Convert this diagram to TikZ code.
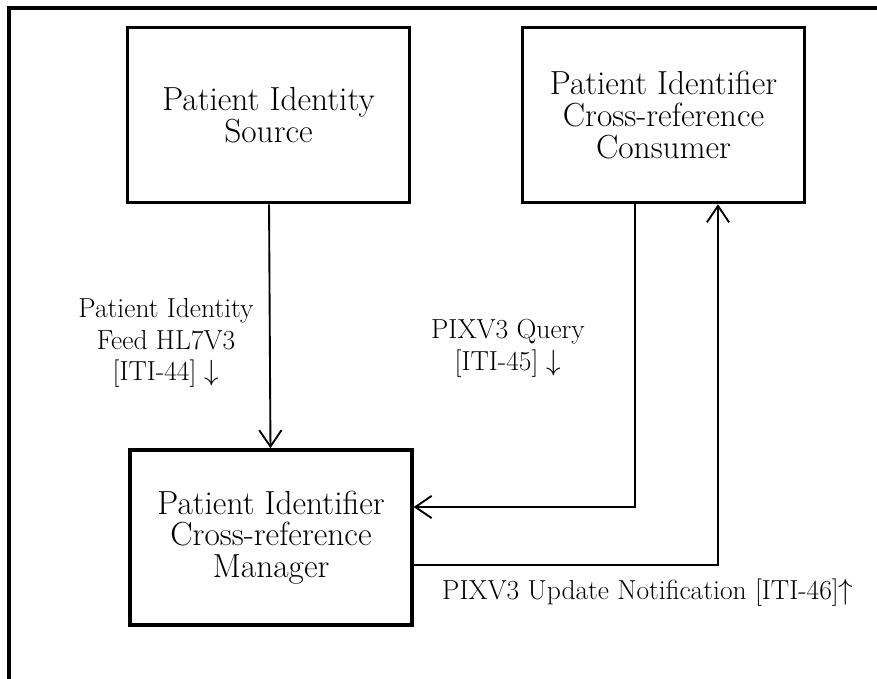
\documentclass[tikz,border=0pt]{standalone}
\usetikzlibrary{arrows.meta}
\begin{document}
\begin{tikzpicture}[x=0.03cm,y=-0.03cm,
  actor/.style={draw,line width=3pt,minimum width=8.45cm,minimum height=5.25cm,
    align=center,font=\fontsize{28.5}{27}\selectfont},
  flow/.style={line width=1.6pt,-{Straight Barb[length=14pt,width=19pt]}},
  msg/.style={align=center,inner sep=0pt,font=\fontsize{23.5}{27}\selectfont}]
\useasboundingbox (0,0) rectangle (877,679);
% draw the frame
\draw[line width=3.2pt] (9,679) -- (9,8) -- (877,8);

% draw the actors
\node[actor] (source) at (268.5,115) {Patient Identity\\Source};
\node[actor] (consumer) at (663.5,115) {Patient Identifier\\Cross-reference\\Consumer};
\node[actor] (manager) at (271,537.5) {Patient Identifier\\Cross-reference\\Manager};

% draw the transactions
\draw[flow] (source) -- (manager);
\draw[flow] ([xshift=-0.855cm]consumer.south) |- ([yshift=0.915cm]manager.east);
\draw[flow] ([yshift=-0.825cm]manager.east) -| ([xshift=1.635cm]consumer.south);

% draw the labels
\node[msg] (feedlbl) at (166,343) {Patient Identity\\Feed HL7V3\\{[ITI-44] $\downarrow$}};
\node[msg] (querylbl) at (508,348) {PIXV3 Query\\{[ITI-45] $\downarrow$}};
\node[msg,anchor=west] (updatelbl) at (442,593) {PIXV3 Update Notification [ITI-46]$\uparrow$};
\end{tikzpicture}
\end{document}
